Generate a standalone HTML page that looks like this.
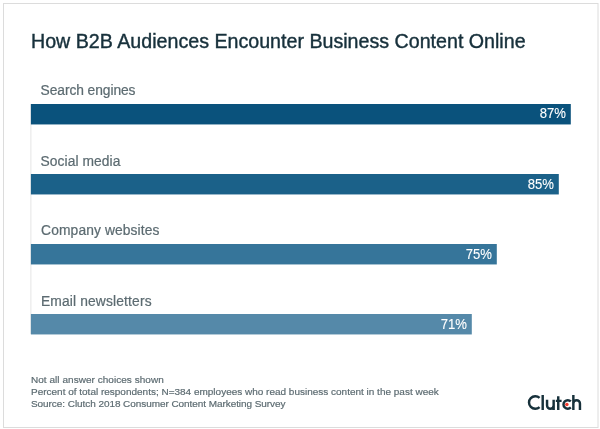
<!DOCTYPE html>
<html><head><meta charset="utf-8">
<style>
html,body{margin:0;padding:0;background:#fff;}
body{width:600px;height:429px;position:relative;overflow:hidden;}
svg{position:absolute;left:0;top:0;will-change:transform;}
text{font-family:"Liberation Sans",sans-serif;}
.title{font-size:19.65px;fill:#17303b;stroke:#17303b;stroke-width:0.4px;}
.lbl{font-size:13.8px;fill:#5c6b71;stroke:#5c6b71;stroke-width:0.22px;}
.pct{font-size:14.4px;fill:#fff;stroke:#fff;stroke-width:0.1px;}
.note{font-size:10px;fill:#5c6b71;stroke:#5c6b71;stroke-width:0.2px;}
</style></head><body>
<svg width="600" height="429" viewBox="0 0 600 429">
  <rect x="3.5" y="3.5" width="594.5" height="424" fill="none" stroke="#dcdcdc" stroke-width="1"/>
  <rect x="30.2" y="104" width="1.3" height="230" fill="#ebebeb"/>
  <rect x="30.9" y="104" width="539.9" height="20.45" fill="#0a527c"/>
  <rect x="30.9" y="174" width="527.9" height="20.45" fill="#1b6189"/>
  <rect x="30.9" y="244" width="465.9" height="20.45" fill="#36759a"/>
  <rect x="30.9" y="314" width="440.9" height="20.45" fill="#5589a9"/>

  <text class="title" x="31" y="48">How B2B Audiences Encounter Business Content Online</text>

  <text class="lbl" x="40.6" y="95" style="letter-spacing:-0.075px">Search engines</text>
  <text class="lbl" x="40.6" y="166" style="letter-spacing:0.072px">Social media</text>
  <text class="lbl" x="41.1" y="235" style="letter-spacing:0.12px">Company websites</text>
  <text class="lbl" x="40.9" y="306" style="letter-spacing:0.16px">Email newsletters</text>


  <text class="pct" text-anchor="end" transform="translate(565.9 118.4) scale(0.91 1)">87%</text>
  <text class="pct" text-anchor="end" transform="translate(553.9 189.3) scale(0.91 1)">85%</text>
  <text class="pct" text-anchor="end" transform="translate(491.9 259.3) scale(0.91 1)">75%</text>
  <text class="pct" text-anchor="end" transform="translate(466.9 329.3) scale(0.91 1)">71%</text>

  <text class="note" transform="translate(31 382.9) scale(1 0.9)" style="letter-spacing:0.045px">Not all answer choices shown</text>
  <text class="note" transform="translate(31 394.9) scale(1 0.9)" style="letter-spacing:0px">Percent of total respondents; N=384 employees who read business content in the past week</text>
  <text class="note" transform="translate(31 406.9) scale(1 0.9)" style="letter-spacing:-0.058px">Source: Clutch 2018 Consumer Content Marketing Survey</text>

  <g fill="none" stroke="#17313b" stroke-width="2.45">
    <path d="M539.58 397.91 A6.28 6.28 0 1 0 539.58 407.09"/>
    <path d="M542.7 395 V410"/>
    <path d="M547.05 399.7 V405.47 A3.30 3.30 0 0 0 553.65 405.47 M553.65 399.7 V410"/>
    <path d="M558.25 396.2 V410 M555.8 400.85 H561.6"/>
    <path d="M570.82 401.43 A4.28 4.28 0 1 0 570.82 407.47"/>
    <path d="M573.35 395 V410 M573.35 403.53 A3.30 3.30 0 0 1 579.95 403.53 V410"/>
  </g>
  <circle cx="566.85" cy="404.45" r="1.75" fill="#f23a2c"/>
</svg>
</body></html>
